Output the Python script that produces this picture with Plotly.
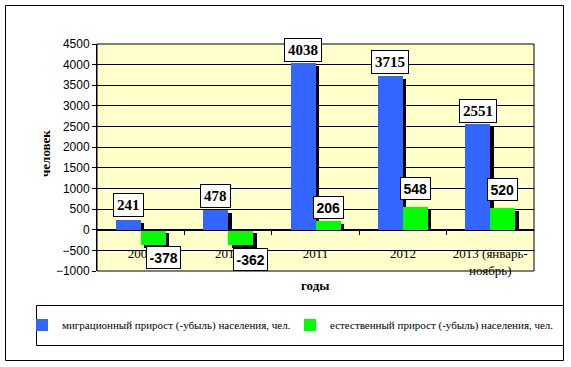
import plotly.graph_objects as go

categories = ["2009", "2010", "2011", "2012", "2013 (январь-<br>ноябрь)"]
migration = [241, 478, 4038, 3715, 2551]
natural = [-378, -362, 206, 548, 520]
series_names = ["миграционный прирост (-убыль) населения, чел.",
                "естественный прирост (-убыль) населения, чел."]
y_ticks = list(range(-1000, 4501, 500))

# layout geometry (pixels)
W, H = 571, 367
L, R, T, B = 97, 37, 44, 96
pw, ph = W - L - R, H - T - B
cat_px = pw / len(categories)
bw = 25 / cat_px            # bar width in category units
sdx = 3.5 / cat_px          # shadow horizontal offset
sdy = 3 * 5500 / ph         # shadow vertical offset in data units

def px_x(p):
    return (p - L) / pw

def px_y(p):
    return (H - B - p) / ph

BLUE = "#3366FF"
GREEN = "#00FF00"
xs = list(range(len(categories)))

fig = go.Figure()

# shadows
for vals, off in [(migration, -bw), (natural, 0)]:
    bases = [0 if v > 0 else -sdy for v in vals]
    fig.add_trace(go.Bar(
        x=xs, y=[(v - sdy) - b for v, b in zip(vals, bases)], base=bases,
        offset=off + sdx, width=bw, marker=dict(color="black", line=dict(width=0)),
        showlegend=False, hoverinfo="skip"))

fig.add_trace(go.Bar(x=xs, y=migration, offset=-bw, width=bw, name=series_names[0],
                     marker=dict(color=BLUE, line=dict(width=0))))
fig.add_trace(go.Bar(x=xs, y=natural, offset=0, width=bw, name=series_names[1],
                     marker=dict(color=GREEN, line=dict(width=0))))

# data labels
blue_font = dict(family="Liberation Serif", size=15, color="black", weight="bold")
green_font = dict(family="Liberation Sans", size=14, color="black", weight="bold")
blue_shift = [3, 2, 1, 2, 1]
green_shift = [-1, -3, 2, 7, 7]
for i, v in enumerate(migration):
    fig.add_annotation(x=i - bw / 2, y=v, text=str(v), showarrow=False,
                       xref="x", yref="y", yanchor="bottom", yshift=blue_shift[i],
                       font=blue_font, bgcolor="white", bordercolor="black",
                       borderwidth=1, borderpad=3)
for i, v in enumerate(natural):
    fig.add_annotation(x=i + bw / 2, y=v, text=str(v), showarrow=False,
                       xref="x", yref="y", yanchor="bottom" if v > 0 else "top",
                       xshift=0 if v > 0 else 10, yshift=green_shift[i],
                       font=green_font, bgcolor="white", bordercolor="black",
                       borderwidth=1, borderpad=2.5)

# axis titles
fig.add_annotation(x=px_x(45), y=px_y(154), xref="paper", yref="paper",
                   xanchor="center", yanchor="middle",
                   text="<b>человек</b>", textangle=-90, showarrow=False,
                   font=dict(family="Liberation Serif", size=13, color="black"))
fig.add_annotation(x=px_x(315), y=px_y(285), xref="paper", yref="paper",
                   xanchor="center", yanchor="middle",
                   text="<b>годы</b>", showarrow=False,
                   font=dict(family="Liberation Serif", size=13, color="black"))

# plot-area border, outer border, legend box
fig.add_shape(type="rect", xref="paper", yref="paper", x0=0, x1=1, y0=0, y1=1,
              line=dict(color="black", width=1), layer="above")
fig.add_shape(type="rect", xref="paper", yref="paper",
              x0=px_x(5.5), x1=px_x(563.5), y0=px_y(360.5), y1=px_y(5.5),
              line=dict(color="black", width=1))
fig.add_shape(type="rect", xref="paper", yref="paper",
              x0=px_x(36.5), x1=px_x(563.5), y0=px_y(345.5), y1=px_y(305.5),
              line=dict(color="black", width=1))

zero_pos = 1000 / 5500
fig.update_layout(
    width=W, height=H,
    margin=dict(l=L, r=R, t=T, b=B, pad=0, autoexpand=False),
    paper_bgcolor="white", plot_bgcolor="#FFFFCC",
    barmode="overlay", bargap=0,
    showlegend=True,
    legend=dict(orientation="h", xref="paper", yref="paper",
                x=px_x(22), y=px_y(325), xanchor="left", yanchor="middle",
                font=dict(family="Liberation Serif", size=11, color="black"),
                bgcolor="rgba(0,0,0,0)", borderwidth=0, itemwidth=30,
                entrywidth=223, entrywidthmode="pixels",
                traceorder="normal"),
    xaxis=dict(range=[-0.5, len(categories) - 0.5], anchor="free", position=zero_pos,
               showline=True, linecolor="black", linewidth=1,
               tickvals=xs, ticktext=categories, ticks="", ticklen=0,
               ticklabelstandoff=12,
               tickfont=dict(family="Liberation Serif", size=13, color="black"),
               minor=dict(tickvals=[i + 0.5 for i in xs[:-1]], ticks="outside",
                          ticklen=4, tickcolor="black", showgrid=False),
               showgrid=False, zeroline=False, fixedrange=True),
    yaxis=dict(range=[-1000, 4500], tickvals=y_ticks, showline=True, linecolor="black",
               linewidth=1, ticks="outside", ticklen=4, tickcolor="black",
               showgrid=True, gridcolor="black", gridwidth=1, zeroline=False,
               tickfont=dict(family="Liberation Sans", size=12, color="black")),
)

fig.write_html("out.html", config={"displayModeBar": False},
               post_script="document.body.style.margin='0px';")
